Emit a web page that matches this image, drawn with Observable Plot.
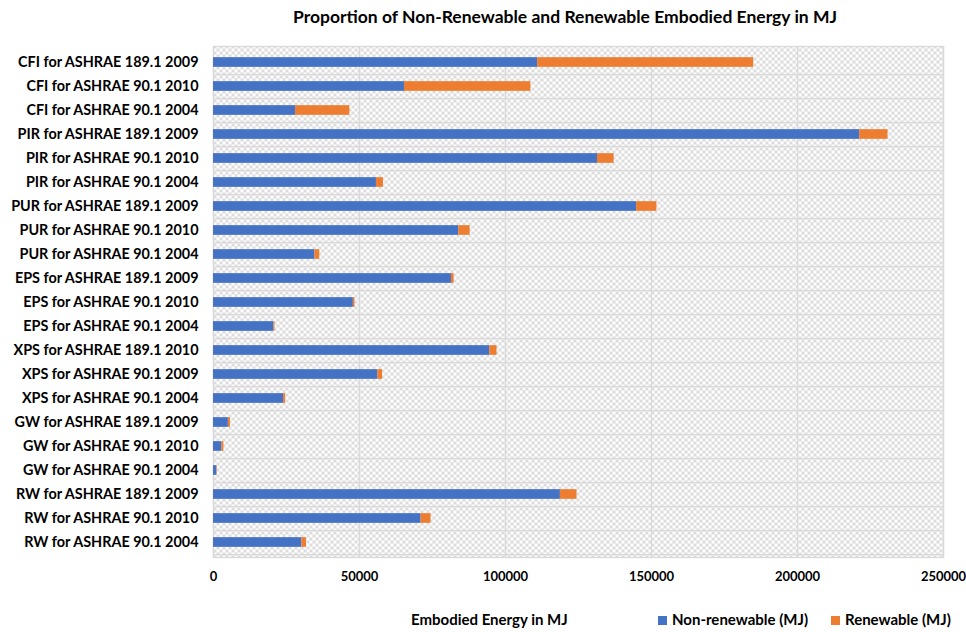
<!DOCTYPE html>
<html>
<head>
<meta charset="utf-8">
<script src="https://cdn.jsdelivr.net/npm/d3@7"></script>
<script src="https://cdn.jsdelivr.net/npm/@observablehq/plot@0.6"></script>
<style>
  body { margin: 0; background: #fff; font-family: Lato, "Open Sans", sans-serif; }
  #wrap { position: relative; width: 966px; height: 632px; overflow: hidden; }
  #chart { position: absolute; left: 0; top: 0; }
  #title { position: absolute; top: 6px; left: 0; width: 1130px; text-align: center;
           font-weight: bold; font-size: 17.5px; color: #000; }
  #bottom { position: absolute; top: 610px; left: 0; width: 966px; height: 20px;
            font-weight: bold; font-size: 15px; color: #000; }
  #bottom span { position: absolute; white-space: nowrap; }
  .sw { display: inline-block; width: 9px; height: 9px; margin-right: 5px; vertical-align: 0px; }
  svg text { font-family: Lato, "Open Sans", sans-serif; font-weight: bold; fill: #000; }
</style>
</head>
<body>
<div id="wrap">
  <div id="title">Proportion of Non-Renewable and Renewable Embodied Energy in MJ</div>
  <div id="chart"></div>
  <div id="bottom">
    <span id="xtitle" style="left:411px;">Embodied Energy in MJ</span>
    <span id="leg1" style="left:658px;"></span>
    <span id="leg2" style="left:831px;"></span>
  </div>
</div>
<script>
const categories = [
  "CFI for ASHRAE 189.1 2009",
  "CFI for ASHRAE 90.1 2010",
  "CFI for ASHRAE 90.1 2004",
  "PIR for ASHRAE 189.1 2009",
  "PIR for ASHRAE 90.1 2010",
  "PIR for ASHRAE 90.1 2004",
  "PUR for ASHRAE 189.1 2009",
  "PUR for ASHRAE 90.1 2010",
  "PUR for ASHRAE 90.1 2004",
  "EPS for ASHRAE 189.1 2009",
  "EPS for ASHRAE 90.1 2010",
  "EPS for ASHRAE 90.1 2004",
  "XPS for ASHRAE 189.1 2010",
  "XPS for ASHRAE 90.1 2009",
  "XPS for ASHRAE 90.1 2004",
  "GW for ASHRAE 189.1 2009",
  "GW for ASHRAE 90.1 2010",
  "GW for ASHRAE 90.1 2004",
  "RW for ASHRAE 189.1 2009",
  "RW for ASHRAE 90.1 2010",
  "RW for ASHRAE 90.1 2004"
];
const nonRenewable = [
  111000, 65400, 28100,
  221300, 131500, 55800,
  144900, 84000, 34700,
  81500, 47900, 20700,
  94600, 56300, 24000,
  5100, 2850, 1150,
  118800, 71100, 30250
];
const renewable = [
  74000, 43300, 18600,
  9700, 5700, 2400,
  6950, 3900, 1700,
  900, 550, 350,
  2500, 1600, 700,
  700, 700, 150,
  5700, 3400, 1600
];
const seriesNames = ["Non-renewable (MJ)", "Renewable (MJ)"];
const seriesColors = ["#4472C4", "#ED7D31"];
const xTicks = [0, 50000, 100000, 150000, 200000, 250000];
const xMax = 250000;

const data = [];
categories.forEach((c, i) => {
  data.push({category: c, type: seriesNames[0], value: nonRenewable[i]});
  data.push({category: c, type: seriesNames[1], value: renewable[i]});
});

const W = 966, H = 632, mT = 46, mB = 75, mL = 213, mR = 23;
const step = (H - mT - mB) / categories.length;
const barThickness = 10;
const inset = (step - barThickness) / 2;

const patternDefs = () => {
  const defs = d3.create("svg:defs");
  const p = defs.append("pattern").attr("id", "bgpat")
    .attr("patternUnits", "userSpaceOnUse").attr("width", 6).attr("height", 6);
  p.append("rect").attr("width", 6).attr("height", 6).attr("fill", "#ffffff");
  p.append("rect").attr("x", 0).attr("y", 0).attr("width", 3).attr("height", 3).attr("fill", "#dcdcdc");
  p.append("rect").attr("x", 3).attr("y", 3).attr("width", 3).attr("height", 3).attr("fill", "#dcdcdc");
  return defs.node();
};

const chart = Plot.plot({
  width: W, height: H,
  marginTop: mT, marginBottom: mB, marginLeft: mL, marginRight: mR,
  style: {fontFamily: "Lato, 'Open Sans', sans-serif", background: "transparent", overflow: "visible"},
  x: {domain: [0, xMax], ticks: xTicks, tickFormat: d3.format("d")},
  y: {domain: categories, padding: 0},
  color: {domain: seriesNames, range: seriesColors},
  marks: [
    patternDefs,
    Plot.frame({fill: "url(#bgpat)", stroke: "#d9d9d9", strokeWidth: 1.3}),
    Plot.gridX(xTicks, {stroke: "#d9d9d9", strokeOpacity: 1, strokeWidth: 1.3}),
    Plot.ruleY(categories, {y: d => d, dy: step / 2, stroke: "#d9d9d9", strokeWidth: 1.3}),
    Plot.barX(data, Plot.stackX({x: "value", y: "category", fill: "type", order: seriesNames,
      insetTop: inset, insetBottom: inset})),
    Plot.axisX({ticks: xTicks, tickFormat: d3.format("d"), tickSize: 0, tickPadding: 14, fontSize: 13, fontWeight: "bold", label: null}),
    Plot.axisY({tickSize: 0, tickPadding: 15, fontSize: 14.4, fontWeight: "bold", label: null})
  ]
});
document.getElementById("chart").appendChild(chart);

const legendSpans = [document.getElementById("leg1"), document.getElementById("leg2")];
seriesNames.forEach((name, i) => {
  const sw = document.createElement("span");
  sw.className = "sw";
  sw.style.position = "static";
  sw.style.background = seriesColors[i];
  legendSpans[i].appendChild(sw);
  legendSpans[i].appendChild(document.createTextNode(name));
});
</script>
</body>
</html>
